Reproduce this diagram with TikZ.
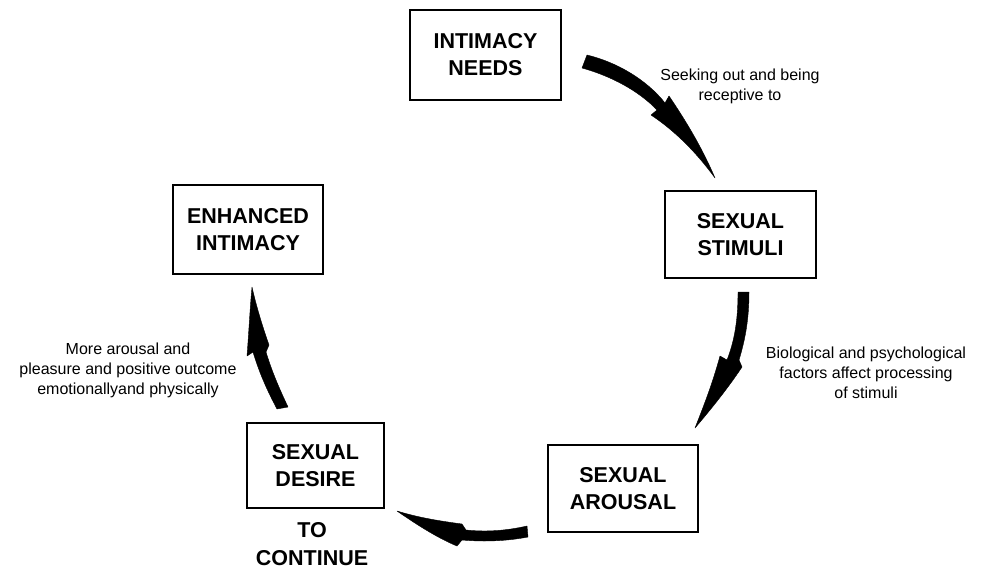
\documentclass[tikz,border=0pt]{standalone}
\usepackage{fontspec}
\setmainfont{Liberation Sans}
\begin{document}
\begin{tikzpicture}[x=1pt,y=-1pt,
  box/.style={draw, line width=1.4pt, inner sep=0pt, align=center, font=\fontsize{21.5}{27}\selectfont\bfseries},
  lbl/.style={align=center, inner sep=0pt, font=\fontsize{16}{20}\selectfont},
  bold/.style={align=center, inner sep=0pt, font=\fontsize{21.5}{28}\selectfont\bfseries},
  arr/.style={fill=black, draw=black, line width=0.4pt, line join=round}]
\useasboundingbox (0,0) rectangle (981,573);
% boxes
\node[box, minimum width=151pt, minimum height=90pt] (need) at (485.5,55) {INTIMACY\\NEEDS};
\node[box, minimum width=151pt, minimum height=87pt] (stim) at (740.5,234.5) {SEXUAL\\STIMULI};
\node[box, minimum width=150pt, minimum height=87pt] (arou) at (623,488.5) {SEXUAL\\AROUSAL};
\node[box, minimum width=137pt, minimum height=85pt] (desi) at (315.5,465.5) {SEXUAL\\DESIRE};
\node[box, minimum width=150pt, minimum height=89pt] (enha) at (248,229.5) {ENHANCED\\INTIMACY};
\node[bold] (cont) at (312,544) {TO\\CONTINUE};
% labels
\node[lbl] (l1) at (740,86) {Seeking out and being\\receptive to};
\node[lbl] (l2) at (866,373) {Biological and psychological\\factors affect processing\\of stimuli};
\node[lbl] (l3) at (128,370) {More arousal and\\pleasure and positive outcome\\emotionallyand physically};
% arrow 1: intimacy needs -> sexual stimuli
\path[arr] (587,55) .. controls (616,62) and (646,79) .. (665,103) -- (669,96)
  .. controls (688,124) and (703,150) .. (715,178)
  .. controls (696,152) and (675,131) .. (651,115) -- (657,110)
  .. controls (639,91) and (611,76) .. (582,68) -- cycle;
% arrow 2: sexual stimuli -> sexual arousal
\path[arr] (738,292) .. controls (738,322) and (734,342) .. (727,360) -- (720,356)
  .. controls (712,385) and (704,405) .. (695,428)
  .. controls (712,408) and (728,388) .. (742,367) -- (739,360)
  .. controls (745,340) and (749,320) .. (749,292) -- cycle;
% arrow 3: sexual arousal -> sexual desire
\path[arr] (527,526) .. controls (505,531) and (485,532) .. (466,530) -- (462,524)
  .. controls (440,521) and (420,518) .. (397,511)
  .. controls (420,527) and (440,539) .. (457,546) -- (462,540)
  .. controls (485,542) and (507,541) .. (528,537) -- cycle;
% arrow 4: sexual desire -> enhanced intimacy
\path[arr] (288,407) .. controls (280,390) and (272,372) .. (266,352) -- (269,345)
  .. controls (262,325) and (256,305) .. (252,287)
  .. controls (250,308) and (249,330) .. (247,356) -- (253,352)
  .. controls (260,375) and (268,392) .. (277,409) -- cycle;
\end{tikzpicture}
\end{document}
